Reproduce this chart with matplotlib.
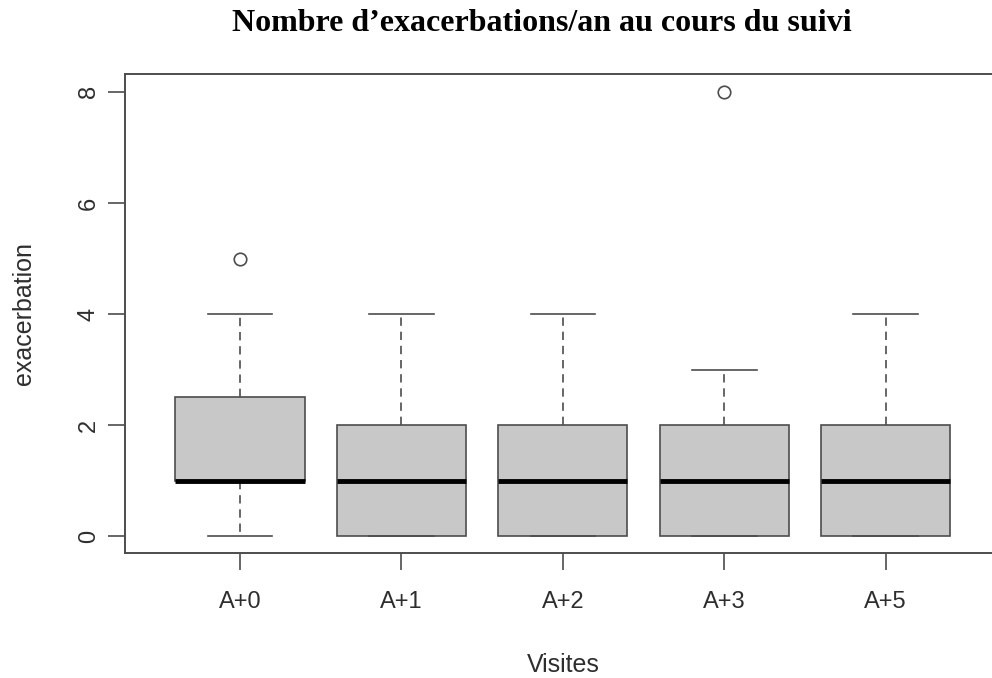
import matplotlib
matplotlib.use("Agg")
import matplotlib.pyplot as plt

# ── data ──────────────────────────────────────────────────────────────────
visites   = ["A+0", "A+1", "A+2", "A+3", "A+5"]
whislo    = [0, 0, 0, 0, 0]
q1        = [1, 0, 0, 0, 0]
medians   = [1, 1, 1, 1, 1]
q3        = [2.5, 2, 2, 2, 2]
whishi    = [4, 4, 4, 3, 4]
outliers  = [[5], [], [], [8], []]

LINE = "#4d4d4d"
FILL = "#c8c8c8"
TXT  = "#2e2e2e"

stats = []
for lab, lo, a, m, b, hi, fl in zip(visites, whislo, q1, medians, q3, whishi, outliers):
    stats.append(dict(label=lab, whislo=lo, q1=a, med=m, q3=b, whishi=hi, fliers=fl))

fig = plt.figure(figsize=(9.92, 6.78), dpi=100)
ax = fig.add_axes([0.126, 0.184, 0.884, 0.707])

ax.bxp(stats, positions=range(1, len(visites) + 1), widths=0.8,
       patch_artist=True,
       boxprops=dict(facecolor=FILL, edgecolor=LINE, linewidth=1.2),
       medianprops=dict(color="black", linewidth=3.5, solid_capstyle="butt"),
       whiskerprops=dict(color=LINE, linewidth=1.2, linestyle=(0, (5, 3.5))),
       capprops=dict(color=LINE, linewidth=1.2),
       capwidths=0.4,
       flierprops=dict(marker="o", markerfacecolor="none",
                       markeredgecolor=LINE, markersize=9, markeredgewidth=1.2))

ax.set_xlim(0.288, 5.72)
ax.set_ylim(-0.306, 8.324)
ax.set_yticks([0, 2, 4, 6, 8])
ax.set_yticklabels(["0", "2", "4", "6", "8"], rotation=90, va="center")
ax.tick_params(axis="both", length=12, width=1.2, color=LINE,
               labelsize=17, labelcolor=TXT)
ax.tick_params(axis="x", pad=15)
ax.tick_params(axis="y", pad=6)
for sp in ax.spines.values():
    sp.set_color(LINE)
    sp.set_linewidth(1.4)

ax.set_xlabel("Visites", fontsize=18, color=TXT, labelpad=29,
              family="Liberation Sans")
ax.set_ylabel("exacerbation", fontsize=18, color=TXT, labelpad=30,
              family="Liberation Sans")
for t in ax.get_xticklabels() + ax.get_yticklabels():
    t.set_family("Liberation Sans")

fig.text(0.546, 0.966, "Nombre d’exacerbations/an au cours du suivi",
         ha="center", va="center", fontsize=23, fontweight="bold",
         family="Liberation Serif")

fig.savefig("out.png", dpi=100)
